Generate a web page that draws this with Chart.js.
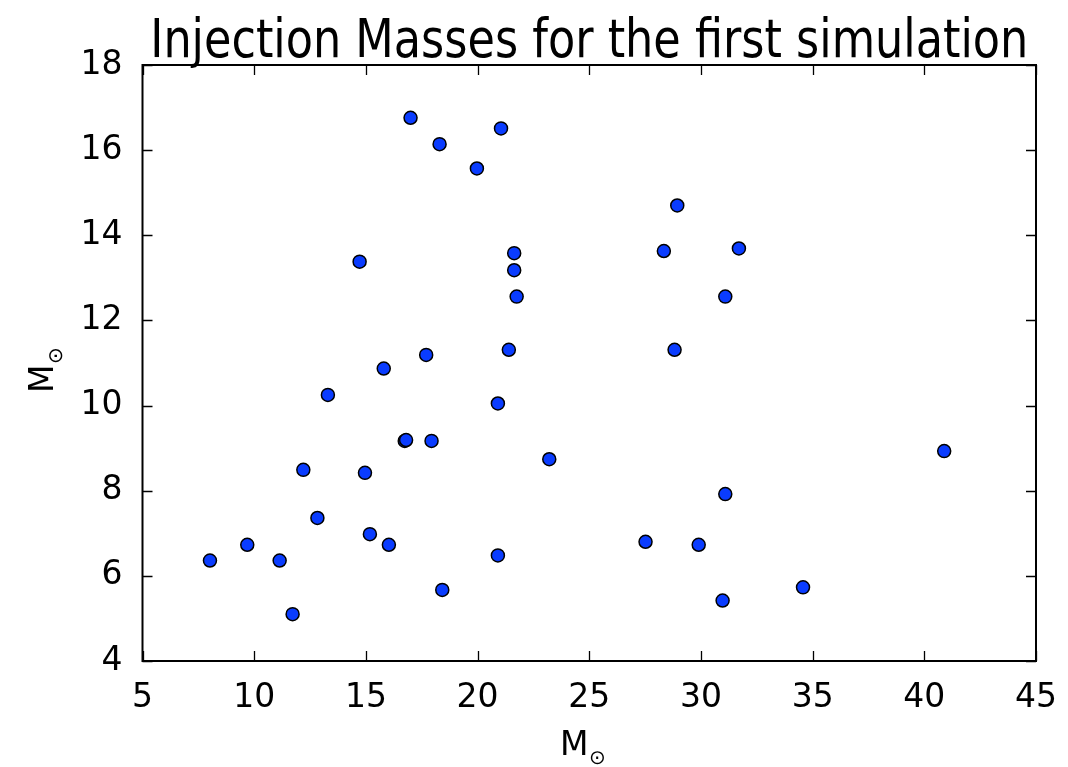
<!DOCTYPE html>
<html>
<head>
<meta charset="utf-8">
<script src="https://cdn.jsdelivr.net/npm/chart.js@4.4.0/dist/chart.umd.min.js"></script>
<style>
  body { margin: 0; background: #fff; }
</style>
</head>
<body>
<canvas id="chart" width="1068" height="767"></canvas>
<script>
// Injection masses (first mass, second mass)
var massX = [17.0, 21.05, 18.3, 19.97, 14.72, 21.64, 21.64, 21.75, 21.4, 17.7,
             15.8, 13.3, 20.91, 16.74, 16.8, 17.94, 23.21, 12.2, 14.96, 12.83,
             15.18, 9.69, 16.03, 8.02, 11.14, 20.91, 18.42, 11.72, 28.94, 28.34,
             31.7, 31.09, 28.82, 40.89, 31.09, 27.52, 29.9, 34.57, 30.97];
var massY = [16.76, 16.51, 16.14, 15.57, 13.38, 13.58, 13.18, 12.56, 11.31, 11.19,
             10.87, 10.25, 10.05, 9.17, 9.19, 9.17, 8.74, 8.49, 8.42, 7.36,
             6.98, 6.73, 6.73, 6.36, 6.36, 6.48, 5.67, 5.1, 14.70, 13.63,
             13.69, 12.56, 11.31, 8.93, 7.92, 6.8, 6.73, 5.73, 5.42];

var titleText = "Injection Masses for the first simulation";
var axisLabel = "M";
var axisSub = "\u2299";

var xTicks = [5, 10, 15, 20, 25, 30, 35, 40, 45];
var yTicks = [4, 6, 8, 10, 12, 14, 16, 18];

var points = massX.map(function(x, i) {
  return { x: x, y: massY[i] };
});

var font = "DejaVu Sans";

// frame, inward ticks, title and axis labels (matplotlib look)
var framePlugin = {
  id: "frame",
  afterDraw: function(chart) {
    var ctx = chart.ctx;
    var a = chart.chartArea;
    var sx = chart.scales.x, sy = chart.scales.y;
    ctx.save();
    ctx.strokeStyle = "#000";
    ctx.lineWidth = 1.3;
    ctx.beginPath();
    xTicks.forEach(function(t) {
      var px = Math.round(sx.getPixelForValue(t)) + 0.5;
      ctx.moveTo(px, a.bottom); ctx.lineTo(px, a.bottom - 10);
      ctx.moveTo(px, a.top); ctx.lineTo(px, a.top + 10);
    });
    yTicks.forEach(function(t) {
      var py = Math.round(sy.getPixelForValue(t)) + 0.5;
      ctx.moveTo(a.left, py); ctx.lineTo(a.left + 10, py);
      ctx.moveTo(a.right, py); ctx.lineTo(a.right - 10, py);
    });
    ctx.stroke();
    ctx.lineWidth = 2;
    ctx.strokeRect(a.left, a.top, a.right - a.left, a.bottom - a.top);

    // title, a bit squeezed like the source image
    ctx.fillStyle = "#000";
    ctx.font = "54px '" + font + "'";
    ctx.textBaseline = "alphabetic";
    ctx.textAlign = "center";
    var w = ctx.measureText(titleText).width;
    var cx = (a.left + a.right) / 2;
    ctx.translate(cx, 57);
    ctx.scale(878 / w, 1);
    ctx.fillText(titleText, 0, 0);
    ctx.restore();

    // x axis label with subscript
    ctx.save();
    ctx.fillStyle = "#000";
    ctx.textAlign = "left";
    ctx.textBaseline = "alphabetic";
    ctx.font = "33px '" + font + "'";
    ctx.fillText(axisLabel, 560, 755);
    ctx.font = "20px '" + font + "'";
    ctx.fillText(axisSub, 589, 764);
    ctx.restore();

    // y axis label, rotated
    ctx.save();
    ctx.fillStyle = "#000";
    ctx.textAlign = "left";
    ctx.textBaseline = "alphabetic";
    ctx.translate(53, 393);
    ctx.rotate(-Math.PI / 2);
    ctx.font = "33px '" + font + "'";
    ctx.fillText(axisLabel, 0, 0);
    ctx.font = "20px '" + font + "'";
    ctx.fillText(axisSub, 29, 9);
    ctx.restore();
  }
};

var ctx = document.getElementById("chart").getContext("2d");

var chart = new Chart(ctx, {
  type: "scatter",
  data: {
    datasets: [{
      data: points,
      backgroundColor: "#0a3cff",
      borderColor: "#000",
      borderWidth: 1.5,
      pointRadius: 6.5,
      pointHoverRadius: 6.5
    }]
  },
  options: {
    responsive: false,
    animation: false,
    layout: { padding: { top: 65, right: 32, left: 0, bottom: 0 } },
    plugins: {
      legend: { display: false },
      title: { display: false },
      tooltip: { enabled: false }
    },
    scales: {
      x: {
        type: "linear",
        min: 5,
        max: 45,
        afterBuildTicks: function(s) { s.ticks = xTicks.map(function(v) { return { value: v }; }); },
        afterFit: function(s) { s.height = 106; },
        grid: { display: false },
        border: { display: false },
        ticks: { color: "#000", padding: 10, font: { family: font, size: 33 }, maxRotation: 0 }
      },
      y: {
        type: "linear",
        min: 4,
        max: 18,
        afterBuildTicks: function(s) { s.ticks = yTicks.map(function(v) { return { value: v }; }); },
        afterFit: function(s) { s.width = 142.5; },
        grid: { display: false },
        border: { display: false },
        ticks: { color: "#000", padding: 12, font: { family: font, size: 33 } }
      }
    }
  },
  plugins: [framePlugin]
});
</script>
</body>
</html>
